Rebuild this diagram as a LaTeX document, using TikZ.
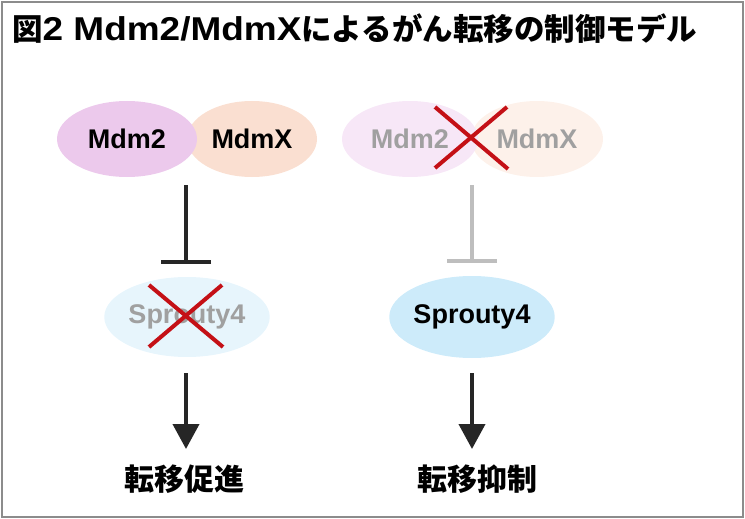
\documentclass[tikz,border=0pt]{standalone}
\usepackage{fontspec}
\setmainfont{Liberation Sans}
\newfontfamily\cjk{Noto Sans CJK JP}
\newfontfamily\titlelatin{Liberation Sans}[FakeStretch=1.12]
\usetikzlibrary{shapes.geometric,arrows.meta}
\definecolor{framegray}{RGB}{140,140,140}
\definecolor{mdmpink}{RGB}{236,201,236}
\definecolor{mdmpeach}{RGB}{250,223,209}
\definecolor{fadepink}{RGB}{247,231,247}
\definecolor{fadepeach}{RGB}{253,241,234}
\definecolor{sprylight}{RGB}{231,245,252}
\definecolor{spryblue}{RGB}{205,235,250}
\definecolor{fadetext}{RGB}{160,160,160}
\definecolor{fadeline}{RGB}{190,190,190}
\definecolor{crossred}{RGB}{196,16,22}
\begin{document}
\begin{tikzpicture}[x=1pt,y=-1pt,every node/.style={font=\bfseries\fontsize{27}{30}\selectfont},
  prot/.style={ellipse,inner sep=0pt,minimum height=76pt},
  inhib/.style={line width=4pt,-{Bar[width=50pt,length=4pt]}},
  act/.style={line width=4pt,draw=black!85,-{Triangle[width=26pt,length=25pt]}},
  cross/.style={line width=4pt,crossred},
  result/.style={font=\cjk\bfseries\fontsize{30}{32}\selectfont}]
  \useasboundingbox (0,0) rectangle (745,519);
  \draw[framegray,line width=2pt] (2,2) rectangle (743,517);
  \node[anchor=west,font=\cjk\bfseries\fontsize{30.5}{32}\selectfont,inner sep=0pt] (title) at (12,29)
    {図{\titlelatin\fontsize{33}{34}\selectfont 2 Mdm2/MdmX}によるがん転移の制御モデル};
  % left: complex present
  \node[prot,fill=mdmpeach,minimum width=130pt] (mdmxL) at (252,139) {MdmX};
  \node[prot,fill=mdmpink,minimum width=140pt] (mdm2L) at (127,139) {Mdm2};
  \coordinate (iLtop) at (186,185);
  \coordinate (iLend) at (186,264);
  \draw[inhib,black!85] (iLtop) -- (iLend);
  \node[prot,fill=sprylight,minimum width=140pt,minimum height=80pt,text=fadetext] (spryL) at (187,317) {Sprouty4};
  \draw[cross] ([shift={(-38,-32)}]spryL.center) -- ([shift={(36,30)}]spryL.center);
  \draw[cross] ([shift={(35,-32)}]spryL.center) -- ([shift={(-38,30)}]spryL.center);
  \coordinate (aLtop) at (186,373);
  \coordinate (aLend) at (186,449);
  \draw[act] (aLtop) -- (aLend);
  \node[result] (promote) at (184,479) {転移促進};
  % right: complex lost
  \node[prot,fill=fadepeach,minimum width=132pt,text=fadetext] (mdmxR) at (537,139) {MdmX};
  \node[prot,fill=fadepink,minimum width=136pt,text=fadetext] (mdm2R) at (410,139) {Mdm2};
  \coordinate (xR) at (471,138);
  \draw[cross] ([shift={(-36,-31)}]xR) -- ([shift={(37,31)}]xR);
  \draw[cross] ([shift={(36,-31)}]xR) -- ([shift={(-36,30)}]xR);
  \coordinate (iRtop) at (472,185);
  \coordinate (iRend) at (472,263);
  \draw[inhib,fadeline] (iRtop) -- (iRend);
  \node[prot,fill=spryblue,minimum width=140pt,minimum height=82pt] (spryR) at (472,317) {Sprouty4};
  \coordinate (aRtop) at (472,373);
  \coordinate (aRend) at (472,449);
  \draw[act] (aRtop) -- (aRend);
  \node[result] (suppress) at (477,479) {転移抑制};
\end{tikzpicture}
\end{document}
